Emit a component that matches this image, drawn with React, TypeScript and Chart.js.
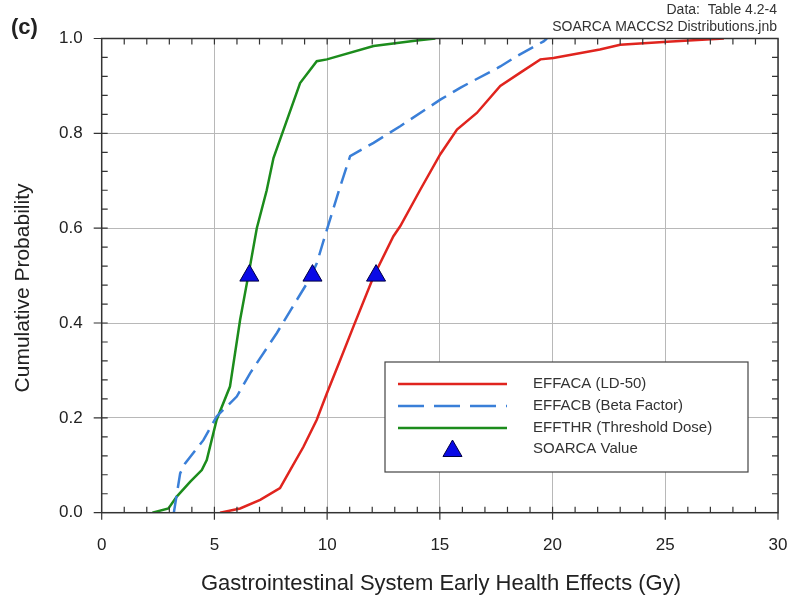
import React, { useEffect, useRef } from "react";
import { Chart, registerables } from "chart.js";

Chart.register(...registerables);

// EFFACA (LD-50)
const effacaX = [5.25, 6.14, 7.03, 7.91, 8.36, 8.95, 9.54, 9.99, 10.58, 11.17, 12.06, 12.94, 13.24, 14.13, 15.02, 15.76, 16.64, 17.68, 18.57, 19.46, 20.04, 22.1, 23.0, 25.08, 27.6];
const effacaY = [0, 0.009, 0.027, 0.052, 0.09, 0.139, 0.196, 0.252, 0.322, 0.393, 0.498, 0.583, 0.604, 0.681, 0.756, 0.808, 0.843, 0.9, 0.928, 0.956, 0.959, 0.977, 0.987, 0.993, 1.0];

// EFFACB (Beta Factor)
const effacbX = [3.2, 3.48, 3.7, 4.51, 5.1, 5.99, 6.58, 7.77, 8.66, 9.25, 9.54, 9.99, 10.58, 11.02, 12.06, 13.24, 15.02, 15.9, 17.68, 18.42, 19.6, 19.75];
const effacbY = [0, 0.083, 0.104, 0.153, 0.203, 0.245, 0.294, 0.379, 0.449, 0.495, 0.526, 0.597, 0.688, 0.752, 0.78, 0.815, 0.871, 0.896, 0.941, 0.963, 0.994, 1.0];

// EFFTHR (Threshold Dose)
const effthrX = [2.25, 2.96, 3.33, 3.92, 4.44, 4.66, 5.1, 5.69, 6.14, 6.58, 6.88, 7.32, 7.62, 8.8, 9.54, 9.99, 12.06, 13.98, 14.8];
const effthrY = [0, 0.009, 0.034, 0.065, 0.09, 0.111, 0.196, 0.266, 0.407, 0.52, 0.6, 0.68, 0.748, 0.906, 0.952, 0.956, 0.984, 0.996, 1.0];

// SOARCA Value
const soarcaX = [6.55, 9.35, 12.17];
const soarcaY = [0.5, 0.5, 0.5];

const xTickLabels = ["0", "5", "10", "15", "20", "25", "30"];
const yTickLabels = ["0.0", "0.2", "0.4", "0.6", "0.8", "1.0"];
const seriesLabels = ["EFFACA (LD-50)", "EFFACB (Beta Factor)", "EFFTHR (Threshold Dose)", "SOARCA Value"];
const xTitle = "Gastrointestinal System Early Health Effects (Gy)";
const yTitle = "Cumulative Probability";
const panelLabel = "(c)";
const noteLines = ["Data:  Table 4.2-4", "SOARCA MACCS2 Distributions.jnb"];

const FONT = "'Liberation Sans', Arial, sans-serif";
const RED = "#e0241e";
const BLUE = "#3a7fd8";
const GREEN = "#1c8c1c";
const TRI = "#0a0ae6";

const toPts = (xs: number[], ys: number[]) => xs.map((x, i) => ({ x, y: ys[i] }));

const decorPlugin = {
  id: "decor",
  afterDraw(chart: any) {
    const ctx = chart.ctx as CanvasRenderingContext2D;
    const { left, right, top, bottom } = chart.chartArea;
    const xs = chart.scales.x;
    const ys = chart.scales.y;
    ctx.save();
    // frame
    ctx.strokeStyle = "#333";
    ctx.lineWidth = 1.5;
    ctx.strokeRect(left, top, right - left, bottom - top);
    // minor ticks
    ctx.lineWidth = 1.2;
    ctx.beginPath();
    for (let v = 1; v < 30; v++) {
      const px = xs.getPixelForValue(v);
      ctx.moveTo(px, bottom);
      ctx.lineTo(px, bottom - 6);
      ctx.moveTo(px, top);
      ctx.lineTo(px, top + 6);
    }
    for (let k = 1; k < 25; k++) {
      const py = ys.getPixelForValue(k * 0.04);
      ctx.moveTo(left, py);
      ctx.lineTo(left + 6, py);
      ctx.moveTo(right, py);
      ctx.lineTo(right - 6, py);
    }
    // major outward ticks
    for (let v = 0; v <= 30; v += 5) {
      const px = xs.getPixelForValue(v);
      ctx.moveTo(px, bottom);
      ctx.lineTo(px, bottom + 7);
    }
    for (let k = 0; k <= 5; k++) {
      const py = ys.getPixelForValue(k * 0.2);
      ctx.moveTo(left, py);
      ctx.lineTo(left - 8, py);
    }
    ctx.stroke();

    // legend
    const bx = 385, by = 362, bw = 363, bh = 110;
    ctx.fillStyle = "#fff";
    ctx.fillRect(bx, by, bw, bh);
    ctx.strokeStyle = "#444";
    ctx.lineWidth = 1.2;
    ctx.strokeRect(bx, by, bw, bh);
    const rows = [384, 406, 428, 449];
    const lineSpec = [
      { c: RED, d: [] as number[] },
      { c: BLUE, d: [26, 10] },
      { c: GREEN, d: [] as number[] },
    ];
    lineSpec.forEach((s, i) => {
      ctx.beginPath();
      ctx.strokeStyle = s.c;
      ctx.lineWidth = 2.5;
      ctx.setLineDash(s.d);
      ctx.moveTo(398, rows[i]);
      ctx.lineTo(507, rows[i]);
      ctx.stroke();
    });
    ctx.setLineDash([]);
    // legend triangle
    const r = 11;
    const tx = 452.5, ty = rows[3] + 2;
    ctx.beginPath();
    ctx.moveTo(tx, ty - r);
    ctx.lineTo(tx + r * 0.866, ty + r * 0.5);
    ctx.lineTo(tx - r * 0.866, ty + r * 0.5);
    ctx.closePath();
    ctx.fillStyle = TRI;
    ctx.fill();
    ctx.strokeStyle = "#000044";
    ctx.lineWidth = 1;
    ctx.stroke();
    ctx.fillStyle = "#333";
    ctx.font = `15px ${FONT}`;
    ctx.textAlign = "left";
    ctx.textBaseline = "middle";
    seriesLabels.forEach((t, i) => ctx.fillText(t, 533, rows[i]));

    // titles
    ctx.fillStyle = "#222";
    ctx.font = `22px ${FONT}`;
    ctx.textAlign = "center";
    ctx.textBaseline = "middle";
    ctx.fillText(xTitle, 441, 584);
    ctx.save();
    ctx.translate(23, 288);
    ctx.rotate(-Math.PI / 2);
    ctx.font = `21px ${FONT}`;
    ctx.fillText(yTitle, 0, 0);
    ctx.restore();

    ctx.font = `bold 22px ${FONT}`;
    ctx.textAlign = "left";
    ctx.fillText(panelLabel, 11, 28);

    ctx.font = `14px ${FONT}`;
    ctx.textAlign = "right";
    ctx.fillStyle = "#333";
    ctx.fillText(noteLines[0], 777, 10);
    ctx.fillText(noteLines[1], 777, 27);
    ctx.restore();
  },
};

export default function App() {
  const ref = useRef<HTMLCanvasElement | null>(null);
  useEffect(() => {
    if (!ref.current) return;
    const chart = new Chart(ref.current, {
      type: "line",
      data: {
        datasets: [
          {
            label: seriesLabels[3],
            data: toPts(soarcaX, soarcaY),
            showLine: false,
            pointStyle: "triangle",
            pointRadius: 11,
            pointBackgroundColor: TRI,
            pointBorderColor: "#000044",
            pointBorderWidth: 1,
          },
          {
            label: seriesLabels[0],
            data: toPts(effacaX, effacaY),
            borderColor: RED,
            borderWidth: 2.5,
            pointRadius: 0,
            tension: 0,
          },
          {
            label: seriesLabels[1],
            data: toPts(effacbX, effacbY),
            borderColor: BLUE,
            borderWidth: 2.5,
            borderDash: [17, 8],
            pointRadius: 0,
            tension: 0,
          },
          {
            label: seriesLabels[2],
            data: toPts(effthrX, effthrY),
            borderColor: GREEN,
            borderWidth: 2.5,
            pointRadius: 0,
            tension: 0,
          },
        ],
      } as any,
      options: {
        animation: false,
        responsive: false,
        devicePixelRatio: 1,
        layout: { padding: { left: 0, right: 13, top: 38.5, bottom: 0 } },
        plugins: { legend: { display: false }, tooltip: { enabled: false } },
        scales: {
          x: {
            type: "linear",
            min: 0,
            max: 30,
            afterFit: (s: any) => {
              s.height = 87.3;
              s.paddingLeft = 0;
              s.paddingRight = 0;
            },
            grid: { color: "#b8b8b8", lineWidth: 1, drawTicks: false },
            border: { display: false },
            ticks: {
              stepSize: 5,
              padding: 22,
              color: "#222",
              font: { family: FONT, size: 17 },
              callback: (v: any) => xTickLabels[Math.round(Number(v) / 5)],
            },
          },
          y: {
            type: "linear",
            min: 0,
            max: 1,
            afterFit: (s: any) => {
              s.width = 101.7;
              s.paddingTop = 0;
              s.paddingBottom = 0;
            },
            grid: { color: "#b8b8b8", lineWidth: 1, drawTicks: false },
            border: { display: false },
            ticks: {
              stepSize: 0.2,
              padding: 19,
              color: "#222",
              font: { family: FONT, size: 17 },
              callback: (v: any) => yTickLabels[Math.round(Number(v) / 0.2)],
            },
          },
        },
      } as any,
      plugins: [decorPlugin],
    });
    return () => chart.destroy();
  }, []);
  return (
    <div style={{ position: "fixed", left: 0, top: 0, width: 791, height: 600, background: "#fff" }}>
      <canvas ref={ref} width={791} height={600} style={{ display: "block" }} />
    </div>
  );
}
